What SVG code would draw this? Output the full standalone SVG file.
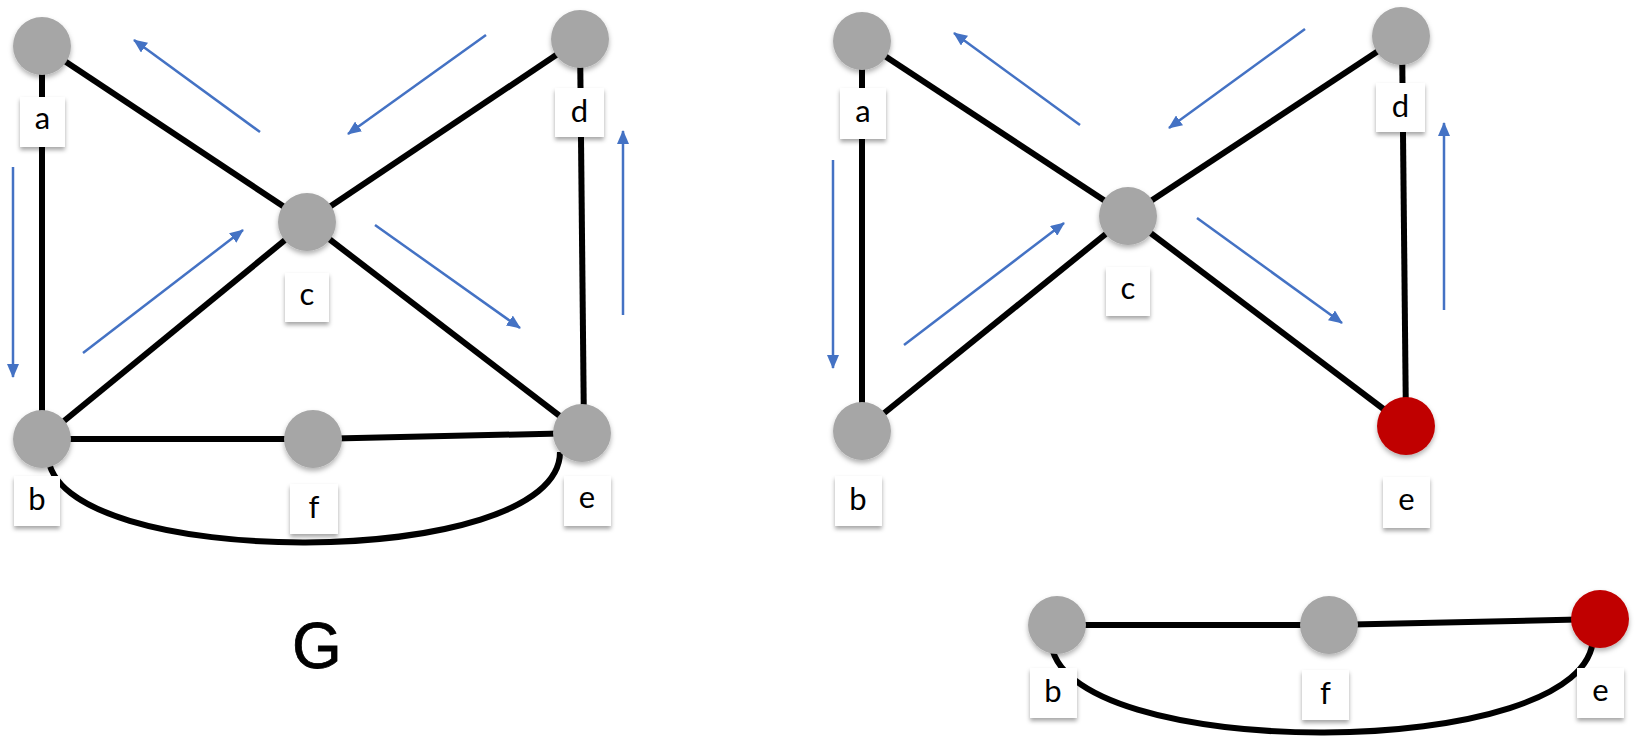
<svg xmlns="http://www.w3.org/2000/svg" width="1638" height="748" viewBox="0 0 1638 748">
<style>
.edge{stroke:#000;stroke-width:6;fill:none;stroke-linecap:butt}
.flow{stroke:#4472C4;stroke-width:2.5;fill:none;marker-end:url(#ah)}
.node{fill:#A6A6A6;filter:url(#cs)}
.red{fill:#C00000;filter:url(#cs)}
.lbox{fill:#fff;filter:url(#ls)}
.lt{font-family:Lato,"Noto Sans","DejaVu Sans",sans-serif;font-size:31px;fill:#000;text-anchor:middle}
.title{font-family:"Liberation Sans",Arial,sans-serif;font-size:64px;fill:#000;stroke:#000;stroke-width:0.8;text-anchor:middle}
</style>
<defs>
<marker id="ah" markerUnits="userSpaceOnUse" markerWidth="14" markerHeight="12" refX="13" refY="6" orient="auto">
<path d="M0,0 L14,6 L0,12 z" fill="#4472C4"/>
</marker>
<filter id="cs" x="-30%" y="-30%" width="160%" height="170%">
<feDropShadow dx="0" dy="3" stdDeviation="2.5" flood-color="#000" flood-opacity="0.3"/>
</filter>
<filter id="ls" x="-30%" y="-30%" width="160%" height="170%">
<feDropShadow dx="0" dy="3" stdDeviation="2" flood-color="#000" flood-opacity="0.35"/>
</filter>
</defs>
<rect width="1638" height="748" fill="#fff"/>

<g id="connectors">
<!-- left graph G -->
<line class="edge" x1="42" y1="46" x2="42" y2="439"/>
<line class="edge" x1="42" y1="46" x2="307" y2="222"/>
<line class="edge" x1="580" y1="39" x2="307" y2="222"/>
<line class="edge" x1="42" y1="439" x2="307" y2="222"/>
<line class="edge" x1="582" y1="433" x2="307" y2="222"/>
<line class="edge" x1="580" y1="39" x2="584" y2="433"/>
<line class="edge" x1="42" y1="439" x2="313" y2="439"/>
<line class="edge" x1="313" y1="439" x2="582" y2="433"/>
<path class="edge" d="M48 455 C52 572 560 572 560 452"/>
<!-- right graph -->
<line class="edge" x1="862" y1="41" x2="862" y2="431"/>
<line class="edge" x1="862" y1="41" x2="1128" y2="216"/>
<line class="edge" x1="1401" y1="36" x2="1128" y2="216"/>
<line class="edge" x1="862" y1="431" x2="1128" y2="216"/>
<line class="edge" x1="1406" y1="426" x2="1128" y2="216"/>
<line class="edge" x1="1402" y1="36" x2="1406" y2="426"/>
<!-- bottom subgraph -->
<line class="edge" x1="1057" y1="625" x2="1329" y2="625"/>
<line class="edge" x1="1329" y1="625" x2="1600" y2="619"/>
<path class="edge" d="M1051 640 C1055 764 1595 764 1593 636"/>
<!-- flow arrows left -->
<line class="flow" x1="13" y1="167" x2="13" y2="377"/>
<line class="flow" x1="260" y1="132" x2="134" y2="40"/>
<line class="flow" x1="486" y1="35" x2="348" y2="134"/>
<line class="flow" x1="83" y1="353" x2="243" y2="230"/>
<line class="flow" x1="375" y1="225" x2="520" y2="328"/>
<line class="flow" x1="623" y1="315" x2="623" y2="131"/>
<!-- flow arrows right -->
<line class="flow" x1="833" y1="160" x2="833" y2="368"/>
<line class="flow" x1="1080" y1="125" x2="954" y2="33"/>
<line class="flow" x1="1305" y1="29" x2="1169" y2="128"/>
<line class="flow" x1="904" y1="345" x2="1064" y2="223"/>
<line class="flow" x1="1197" y1="218" x2="1342" y2="323"/>
<line class="flow" x1="1444" y1="310" x2="1444" y2="123"/>
</g>

<!-- left graph nodes -->
<g id="L-a"><circle class="node" cx="42" cy="46" r="29"/><rect class="lbox" x="20" y="97" width="45" height="50"/><text class="lt" x="42.5" y="129">a</text></g>
<g id="L-b"><circle class="node" cx="42" cy="439" r="29"/><rect class="lbox" x="14" y="476" width="46" height="50"/><text class="lt" x="37" y="510">b</text></g>
<g id="L-c"><circle class="node" cx="307" cy="222" r="29"/><rect class="lbox" x="285" y="273" width="44" height="49"/><text class="lt" x="307" y="305">c</text></g>
<g id="L-d"><circle class="node" cx="580" cy="39" r="29"/><rect class="lbox" x="555" y="88" width="49" height="49"/><text class="lt" x="579.5" y="122">d</text></g>
<g id="L-e"><circle class="node" cx="582" cy="433" r="29"/><rect class="lbox" x="564" y="476" width="47" height="50"/><text class="lt" x="587" y="508">e</text></g>
<g id="L-f"><circle class="node" cx="313" cy="439" r="29"/><rect class="lbox" x="290" y="484" width="48" height="50"/><text class="lt" x="314" y="518">f</text></g>
<g id="L-title"><text class="title" x="317" y="668">G</text></g>

<!-- right graph nodes -->
<g id="R-a"><circle class="node" cx="862" cy="41" r="29"/><rect class="lbox" x="840" y="88" width="46" height="51"/><text class="lt" x="863" y="122">a</text></g>
<g id="R-b"><circle class="node" cx="862" cy="431" r="29"/><rect class="lbox" x="835" y="476" width="47" height="50"/><text class="lt" x="858" y="510">b</text></g>
<g id="R-c"><circle class="node" cx="1128" cy="216" r="29"/><rect class="lbox" x="1106" y="267" width="44" height="49"/><text class="lt" x="1128" y="299">c</text></g>
<g id="R-d"><circle class="node" cx="1401" cy="36" r="29"/><rect class="lbox" x="1376" y="83" width="49" height="49"/><text class="lt" x="1400.5" y="117">d</text></g>
<g id="R-e"><circle class="red" cx="1406" cy="426" r="29"/><rect class="lbox" x="1383" y="477" width="47" height="51"/><text class="lt" x="1406.5" y="510">e</text></g>

<!-- bottom subgraph nodes -->
<g id="S-b"><circle class="node" cx="1057" cy="625" r="29"/><rect class="lbox" x="1030" y="668" width="47" height="50"/><text class="lt" x="1053" y="702">b</text></g>
<g id="S-f"><circle class="node" cx="1329" cy="625" r="29"/><rect class="lbox" x="1302" y="670" width="47" height="50"/><text class="lt" x="1325.5" y="704">f</text></g>
<g id="S-e"><circle class="red" cx="1600" cy="619" r="29"/><rect class="lbox" x="1577" y="668" width="47" height="50"/><text class="lt" x="1600.5" y="701">e</text></g>
</svg>
